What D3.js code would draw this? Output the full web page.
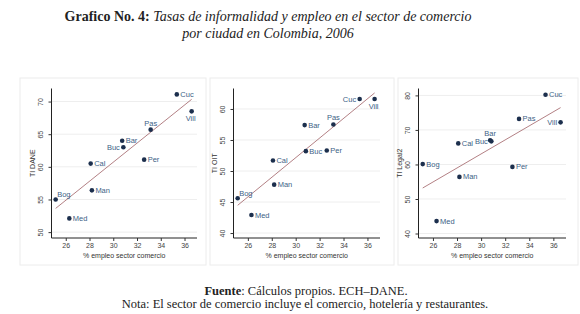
<!DOCTYPE html>
<html>
<head>
<meta charset="utf-8">
<script src="https://cdn.jsdelivr.net/npm/d3@7"></script>
<style>
  body { margin: 0; background: #fff; }
  svg { display: block; }
  .tick line { stroke: #333; }
  .domain { stroke: #222; }
</style>
</head>
<body>
<div id="chart-area"></div>
<script>
// datos por ciudad
var ciudades = ["Bog", "Med", "Cal", "Man", "Bar", "Buc", "Per", "Pas", "Cuc", "Vill"];
var empleoComercio = [25.15, 26.3, 28.1, 28.2, 30.75, 30.85, 32.6, 33.15, 35.35, 36.6];
var tiDane = [55.0, 52.1, 60.5, 56.4, 64.0, 63.0, 61.1, 65.7, 71.1, 68.5];
var tiOit = [45.6, 42.9, 51.7, 47.8, 57.4, 53.2, 53.3, 57.5, 61.6, 61.6];
var tiLegal2 = [60.1, 43.6, 66.1, 56.4, 67.0, 66.7, 59.3, 73.2, 80.2, 72.2];

var xTicks = [26, 28, 30, 32, 34, 36];
var yTicksDane = [50, 55, 60, 65, 70];
var yTicksOit = [40, 45, 50, 55, 60];
var yTicksLegal = [40, 50, 60, 70, 80];

var width = 580, height = 314;
var svg = d3.select("#chart-area").append("svg")
    .attr("width", width)
    .attr("height", height);

// title
var title = svg.append("text")
    .attr("x", 268)
    .attr("y", 21)
    .attr("text-anchor", "middle")
    .attr("font-family", "Liberation Serif, serif")
    .attr("font-size", "14px")
    .attr("fill", "#222");
title.append("tspan").attr("font-weight", "bold").text("Grafico No. 4: ");
title.append("tspan").attr("font-style", "italic").text("Tasas de informalidad y empleo en el sector de comercio");
svg.append("text")
    .attr("x", 268)
    .attr("y", 38)
    .attr("text-anchor", "middle")
    .attr("font-family", "Liberation Serif, serif")
    .attr("font-size", "14px")
    .attr("font-style", "italic")
    .attr("fill", "#222")
    .text("por ciudad en Colombia, 2006");

// footer
var fuente = svg.append("text")
    .attr("x", 306)
    .attr("y", 295)
    .attr("text-anchor", "middle")
    .attr("font-family", "Liberation Serif, serif")
    .attr("font-size", "12.5px")
    .attr("fill", "#222");
fuente.append("tspan").attr("font-weight", "bold").text("Fuente");
fuente.append("tspan").text(": Cálculos propios. ECH–DANE.");
svg.append("text")
    .attr("x", 305)
    .attr("y", 307.5)
    .attr("text-anchor", "middle")
    .attr("font-family", "Liberation Serif, serif")
    .attr("font-size", "12.5px")
    .attr("fill", "#222")
    .text("Nota: El sector de comercio incluye el comercio, hotelería y restaurantes.");

// label placement: clock position for each city
var panels = [
    { ylabel: "TI DANE", y: tiDane, ticks: yTicksDane, domain: [49.1, 72.0],
      frame: [20, 78, 186, 187], plot: [51.5, 88.5, 197, 238],
      pos: { Bog: 1, Buc: 9, Pas: 12, Vill: 6 } },
    { ylabel: "TI OIT", y: tiOit, ticks: yTicksOit, domain: [39.2, 63.3],
      frame: [210, 78, 184, 187], plot: [233.5, 88.5, 380, 238],
      pos: { Bog: 1, Cuc: 9, Pas: 12, Vill: 6 } },
    { ylabel: "TI Legal2", y: tiLegal2, ticks: yTicksLegal, domain: [38.7, 82.0],
      frame: [398, 78, 180, 187], plot: [418.5, 88.5, 566, 238],
      pos: { Bar: 12, Buc: 9, Vill: 9 } }
];

panels.forEach(function (p) {
    svg.append("rect")
        .attr("x", p.frame[0]).attr("y", p.frame[1])
        .attr("width", p.frame[2]).attr("height", p.frame[3])
        .attr("fill", "none")
        .attr("stroke", "#ececec");

    var left = p.plot[0], top = p.plot[1], right = p.plot[2], bottom = p.plot[3];
    var x = d3.scaleLinear().domain([24.8, 37.05]).range([left, right]);
    var y = d3.scaleLinear().domain(p.domain).range([bottom, top]);
    var g = svg.append("g");

    // grid
    g.selectAll(".grid").data(p.ticks).enter().append("line")
        .attr("x1", left).attr("x2", right)
        .attr("y1", function (d) { return y(d); })
        .attr("y2", function (d) { return y(d); })
        .attr("stroke", "#eeeeee")
        .attr("stroke-width", 1);

    var xAxis = d3.axisBottom(x).tickValues(xTicks).tickSize(3).tickPadding(2);
    var yAxis = d3.axisLeft(y).tickValues(p.ticks).tickSize(3);
    var xg = g.append("g")
        .attr("transform", "translate(0, " + bottom + ")")
        .call(xAxis);
    xg.select(".domain").attr("d", "M" + left + ",0H" + right);
    xg.selectAll("text")
        .attr("font-family", "Liberation Sans, Arial, sans-serif")
        .attr("font-size", "7px")
        .attr("fill", "#444");
    var yg = g.append("g")
        .attr("transform", "translate(" + left + ", 0)")
        .call(yAxis);
    yg.select(".domain").attr("d", "M0," + top + "V" + bottom);
    yg.selectAll("text")
        .attr("font-family", "Liberation Sans, Arial, sans-serif")
        .attr("font-size", "7px")
        .attr("fill", "#444")
        .attr("text-anchor", "middle")
        .attr("transform", "rotate(-90)")
        .attr("x", 0)
        .attr("y", -9)
        .attr("dy", 0);

    g.append("text")
        .attr("x", (left + right) / 2)
        .attr("y", bottom + 20)
        .attr("text-anchor", "middle")
        .attr("font-family", "Liberation Sans, Arial, sans-serif")
        .attr("font-size", "7px")
        .attr("fill", "#333")
        .text("% empleo sector comercio");
    g.append("text")
        .attr("transform", "translate(" + (left - 17) + "," + ((top + bottom) / 2) + ") rotate(-90)")
        .attr("text-anchor", "middle")
        .attr("font-family", "Liberation Sans, Arial, sans-serif")
        .attr("font-size", "7px")
        .attr("fill", "#333")
        .text(p.ylabel);

    // fitted line (OLS)
    var pts = ciudades.map(function (c, i) { return { c: c, x: empleoComercio[i], y: p.y[i] }; });
    var mx = d3.mean(pts, function (d) { return d.x; });
    var my = d3.mean(pts, function (d) { return d.y; });
    var sxy = d3.sum(pts, function (d) { return (d.x - mx) * (d.y - my); });
    var sxx = d3.sum(pts, function (d) { return (d.x - mx) * (d.x - mx); });
    var b = sxy / sxx, a = my - b * mx;
    var xe = d3.extent(pts, function (d) { return d.x; });
    g.append("line")
        .attr("x1", x(xe[0])).attr("y1", y(a + b * xe[0]))
        .attr("x2", x(xe[1])).attr("y2", y(a + b * xe[1]))
        .attr("stroke", "#a06064")
        .attr("stroke-width", 0.8);

    g.selectAll("circle").data(pts).enter().append("circle")
        .attr("cx", function (d) { return x(d.x); })
        .attr("cy", function (d) { return y(d.y); })
        .attr("r", 2.3)
        .attr("fill", "#1c2f4d");

    g.selectAll(".lbl").data(pts).enter().append("text")
        .attr("font-family", "Liberation Sans, Arial, sans-serif")
        .attr("font-size", "7.5px")
        .attr("fill", "#3d5f86")
        .each(function (d) {
            var t = d3.select(this).text(d.c);
            var px = x(d.x), py = y(d.y);
            var pos = p.pos[d.c] || 3;
            if (pos === 3) t.attr("x", px + 3.5).attr("y", py + 2.6).attr("text-anchor", "start");
            else if (pos === 9) t.attr("x", px - 3.5).attr("y", py + 2.6).attr("text-anchor", "end");
            else if (pos === 12) t.attr("x", px).attr("y", py - 4).attr("text-anchor", "middle");
            else if (pos === 6) t.attr("x", px - 1).attr("y", py + 10).attr("text-anchor", "middle");
            else if (pos === 1) t.attr("x", px + 1.5).attr("y", py - 2.5).attr("text-anchor", "start");
        });
});
</script>
</body>
</html>
